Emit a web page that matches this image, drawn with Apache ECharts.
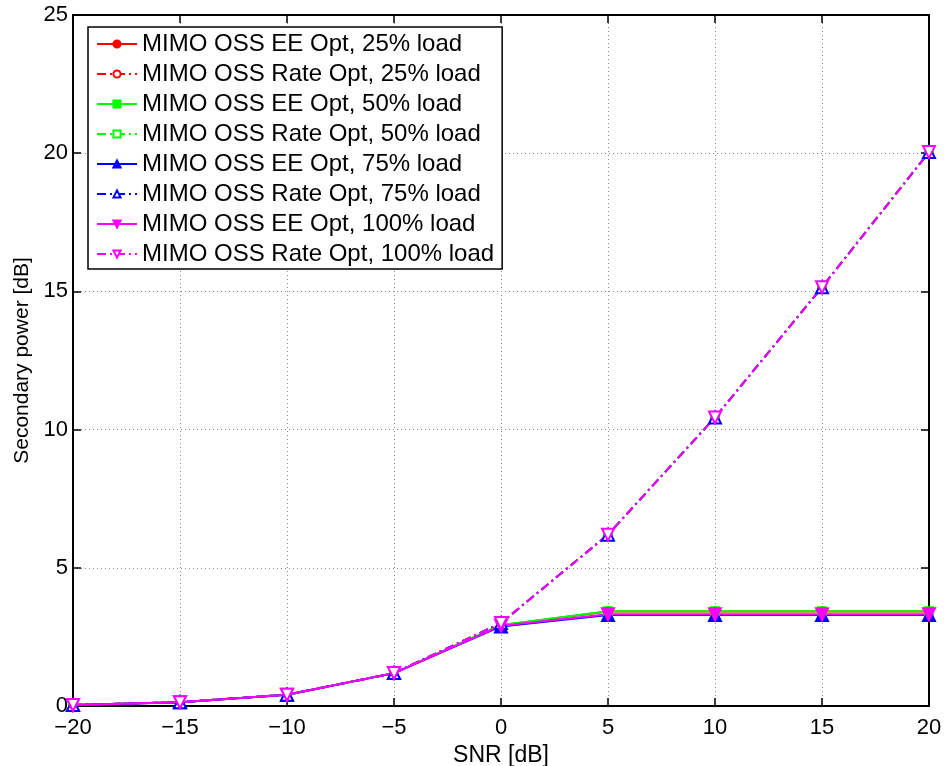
<!DOCTYPE html>
<html>
<head>
<meta charset="utf-8">
<script src="https://cdn.jsdelivr.net/npm/echarts@6/dist/echarts.min.js"></script>
<style>
  html, body { margin: 0; padding: 0; background: #fff; }
  #chart { width: 948px; height: 766px; }
</style>
</head>
<body>
<div id="chart"></div>
<script>
// SNR sample points [dB]
const snr = [-20, -15, -10, -5, 0, 5, 10, 15, 20];

// Secondary power [dB], energy-efficiency optimal
const eeLoad25  = [0.04, 0.14, 0.41, 1.19, 2.92, 3.42, 3.42, 3.42, 3.42];
const eeLoad50  = [0.04, 0.14, 0.41, 1.19, 2.93, 3.43, 3.43, 3.43, 3.43];
const eeLoad75  = [0.04, 0.14, 0.41, 1.19, 2.88, 3.29, 3.29, 3.29, 3.29];
const eeLoad100 = [0.04, 0.14, 0.41, 1.19, 2.90, 3.32, 3.32, 3.32, 3.32];

// Secondary power [dB], rate optimal
const rateLoad25  = [0.04, 0.14, 0.41, 1.19, 3.00, 6.20, 10.44, 15.15, 20.04];
const rateLoad50  = [0.04, 0.14, 0.41, 1.19, 3.00, 6.20, 10.44, 15.15, 20.04];
const rateLoad75  = [0.04, 0.14, 0.41, 1.19, 3.00, 6.20, 10.44, 15.15, 20.04];
const rateLoad100 = [0.04, 0.14, 0.41, 1.19, 3.00, 6.20, 10.44, 15.15, 20.04];

const seriesNames = [
  'MIMO OSS EE Opt, 25% load',
  'MIMO OSS Rate Opt, 25% load',
  'MIMO OSS EE Opt, 50% load',
  'MIMO OSS Rate Opt, 50% load',
  'MIMO OSS EE Opt, 75% load',
  'MIMO OSS Rate Opt, 75% load',
  'MIMO OSS EE Opt, 100% load',
  'MIMO OSS Rate Opt, 100% load'
];

const FONT = '"Liberation Sans", Arial, Helvetica, sans-serif';
const minus = v => String(v).replace('-', '\u2212');

function pairs(ys) { return snr.map((x, i) => [x, ys[i]]); }

const downTri = 'path://M0,0 L10,0 L5,9 Z';

function makeSeries(name, ys, color, symbol, size, rate) {
  return {
    name: name,
    type: 'line',
    data: pairs(ys),
    symbol: symbol,
    symbolSize: size,
    showSymbol: true,
    lineStyle: {
      color: color,
      width: 2,
      type: rate ? [9, 4, 2, 4] : 'solid'
    },
    itemStyle: {
      color: rate ? '#ffffff' : color,
      borderColor: color,
      borderWidth: 2
    },
    emphasis: { disabled: true },
    animation: false,
    z: 3
  };
}

const series = [
  makeSeries(seriesNames[0], eeLoad25,   '#ff0000', 'circle',   8, false),
  makeSeries(seriesNames[1], rateLoad25, '#ff0000', 'circle',   8, true),
  makeSeries(seriesNames[2], eeLoad50,   '#00ff00', 'rect',     8, false),
  makeSeries(seriesNames[3], rateLoad50, '#00ff00', 'rect',     8, true),
  makeSeries(seriesNames[4], eeLoad75,   '#0000ff', 'triangle', 12, false),
  makeSeries(seriesNames[5], rateLoad75, '#0000ff', 'triangle', 12, true),
  makeSeries(seriesNames[6], eeLoad100,  '#ff00ff', downTri,    12, false),
  makeSeries(seriesNames[7], rateLoad100,'#ff00ff', downTri,    12, true)
];

const gridLine = { show: true, lineStyle: { color: '#8c8c8c', width: 1, type: [1, 3] } };
const axisLine = { show: true, onZero: false, lineStyle: { color: '#000', width: 2 } };
const tickIn = { show: true, inside: true, length: 8, lineStyle: { color: '#000', width: 1.5 } };

const chart = echarts.init(document.getElementById('chart'), null, { renderer: 'canvas' });
chart.setOption({
  backgroundColor: '#ffffff',
  animation: false,
  grid: {
    left: 73, right: 19, top: 15, bottom: 60,
    containLabel: false, outerBoundsMode: 'none'
  },
  xAxis: [
    {
      type: 'value', min: -20, max: 20, interval: 5,
      name: 'SNR [dB]', nameLocation: 'middle', nameGap: 32,
      nameTextStyle: { fontFamily: FONT, fontSize: 23, color: '#000' },
      axisLine: axisLine, axisTick: tickIn, splitLine: gridLine,
      axisLabel: { fontFamily: FONT, fontSize: 22, color: '#000', margin: 11, formatter: minus }
    },
    {
      type: 'value', position: 'top', min: -20, max: 20, interval: 5,
      axisLine: axisLine, axisTick: tickIn, splitLine: { show: false },
      axisLabel: { show: false }
    }
  ],
  yAxis: [
    {
      type: 'value', min: 0, max: 25, interval: 5,
      name: 'Secondary power [dB]', nameLocation: 'middle', nameGap: 31,
      nameTextStyle: { fontFamily: FONT, fontSize: 21, color: '#000' },
      axisLine: axisLine, axisTick: tickIn, splitLine: gridLine,
      axisLabel: { fontFamily: FONT, fontSize: 22, color: '#000', margin: 5 }
    },
    {
      type: 'value', position: 'right', min: 0, max: 25, interval: 5,
      axisLine: axisLine, axisTick: tickIn, splitLine: { show: false },
      axisLabel: { show: false }
    }
  ],
  legend: {
    orient: 'vertical',
    left: 88, top: 27,
    padding: [5, 8, 3, 8],
    itemGap: 6,
    itemWidth: 40,
    itemHeight: 9,
    backgroundColor: '#ffffff',
    borderColor: '#000',
    borderWidth: 1.5,
    borderRadius: 0,
    selectedMode: false,
    textStyle: { fontFamily: FONT, fontSize: 24, color: '#000', padding: [0, 0, 0, 0] },
    data: seriesNames
  },
  series: series
});
</script>
</body>
</html>
